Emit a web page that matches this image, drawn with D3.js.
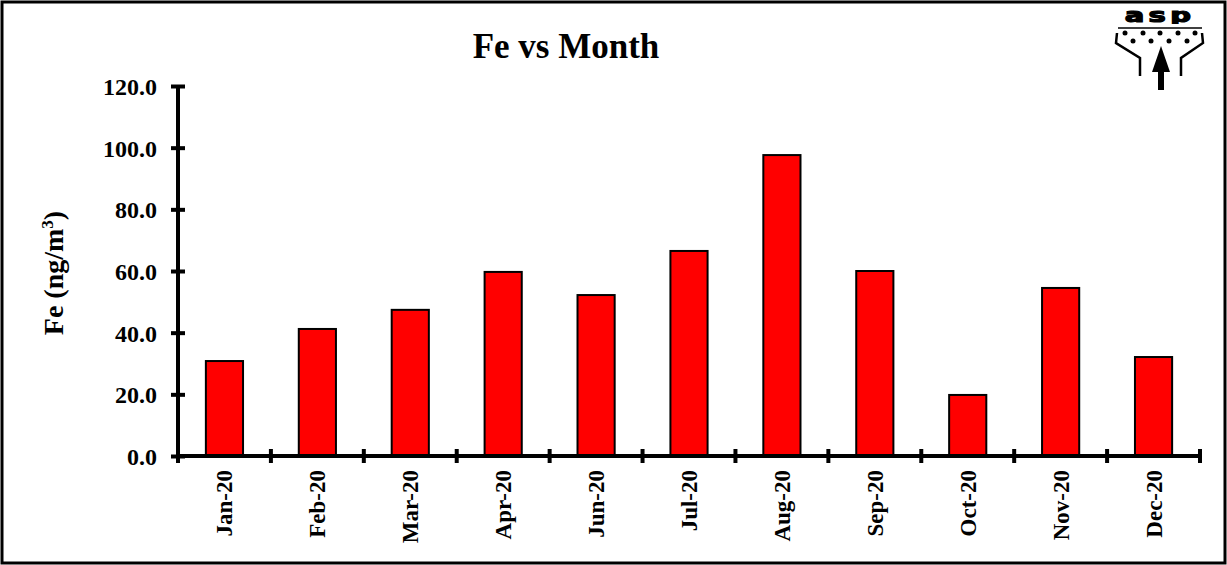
<!DOCTYPE html>
<html>
<head>
<meta charset="utf-8">
<script src="https://cdn.jsdelivr.net/npm/d3@7"></script>
<style>
  body { margin: 0; background: #fff; }
  text { font-family: "Liberation Serif", "Times New Roman", serif; font-weight: bold; }
</style>
</head>
<body>
<div id="chart"></div>
<script>
const months = ["Jan-20", "Feb-20", "Mar-20", "Apr-20", "Jun-20", "Jul-20", "Aug-20", "Sep-20", "Oct-20", "Nov-20", "Dec-20"];
const feValues = [30.8, 41.2, 47.4, 59.7, 52.2, 66.5, 97.6, 60.0, 19.8, 54.5, 32.1];
const yTicks = [0, 20, 40, 60, 80, 100, 120];

const width = 1227;
const height = 565;
const margin = { top: 86, left: 178, bottom: 109, right: 27 };
const iwidth = width - margin.left - margin.right;
const iheight = height - margin.top - margin.bottom;

const svg = d3.select("#chart").append("svg")
  .attr("width", width)
  .attr("height", height);

// outer frame
svg.append("rect")
  .attr("x", 2).attr("y", 2)
  .attr("width", width - 4).attr("height", height - 4)
  .attr("fill", "#fff")
  .attr("stroke", "#000")
  .attr("stroke-width", 3);

svg.append("text")
  .attr("x", 566).attr("y", 58)
  .attr("text-anchor", "middle")
  .style("font-size", "35px")
  .text("Fe vs Month");

const g = svg.append("g")
  .attr("transform", `translate(${margin.left},${margin.top})`);

const y = d3.scaleLinear().domain([0, 120]).range([iheight, 0]);
const x = d3.scaleBand().domain(months).range([0, iwidth]).paddingInner(0.6).paddingOuter(0.3);
const xEdges = d3.scaleLinear().domain([0, months.length]).range([0, iwidth]);

g.selectAll("rect.bar")
  .data(feValues)
  .enter()
  .append("rect")
  .attr("class", "bar")
  .attr("x", (d, i) => x(months[i]))
  .attr("y", d => y(d))
  .attr("width", x.bandwidth())
  .attr("height", d => iheight - y(d))
  .attr("fill", "#ff0000")
  .attr("stroke", "#000")
  .attr("stroke-width", 2);

// y axis
const yAxis = g.append("g")
  .call(d3.axisLeft(y).tickValues(yTicks).tickFormat(d3.format(".1f")).tickSize(7).tickPadding(14));
yAxis.select(".domain").remove();
yAxis.selectAll(".tick line").attr("x2", 7).attr("x1", -7).attr("stroke-width", 4);
yAxis.selectAll(".tick text").style("font-size", "24px").style("font-family", "Liberation Serif").style("font-weight", "bold").attr("dy", "0.35em");
g.append("line").attr("x1", 0).attr("x2", 0).attr("y1", 0).attr("y2", iheight)
  .attr("stroke", "#000").attr("stroke-width", 4);

// x axis
g.append("line").attr("x1", 0).attr("x2", iwidth).attr("y1", iheight).attr("y2", iheight)
  .attr("stroke", "#000").attr("stroke-width", 4);
g.selectAll("line.xtick")
  .data(d3.range(months.length + 1))
  .enter()
  .append("line")
  .attr("class", "xtick")
  .attr("x1", d => xEdges(d)).attr("x2", d => xEdges(d))
  .attr("y1", iheight - 7).attr("y2", iheight + 7)
  .attr("stroke", "#000").attr("stroke-width", 4);

g.selectAll("text.xlab")
  .data(months)
  .enter()
  .append("text")
  .attr("class", "xlab")
  .attr("transform", d => `translate(${x(d) + x.bandwidth() / 2 + 8},${iheight + 14}) rotate(-90)`)
  .attr("text-anchor", "end")
  .style("font-size", "23px")
  .text(d => d);

// y label
const ylab = svg.append("text")
  .attr("transform", "translate(63,273) rotate(-90)")
  .attr("text-anchor", "middle")
  .style("font-size", "28px");
ylab.append("tspan").text("Fe (ng/m");
ylab.append("tspan").style("font-size", "17px").attr("dy", "-10").text("3");
ylab.append("tspan").attr("dy", "10").text(")");

// asp logo
const logo = svg.append("g");
logo.append("text")
  .attr("transform", "translate(1160,22) scale(1.45,1)")
  .attr("text-anchor", "middle")
  .style("font-family", "DejaVu Sans, sans-serif")
  .style("font-weight", "900")
  .style("font-size", "20px")
  .style("letter-spacing", "3px")
  .attr("stroke", "#000")
  .attr("stroke-width", 1.2)
  .text("asp");
logo.append("rect").attr("x", 1116).attr("y", 24).attr("width", 90).attr("height", 3).attr("fill", "#fff");
logo.append("line").attr("x1", 1118).attr("x2", 1202).attr("y1", 28).attr("y2", 28)
  .attr("stroke", "#000").attr("stroke-width", 1.5);
const dots1 = [1125, 1143, 1160, 1178, 1195];
const dots2 = [1133, 1151, 1169, 1187];
logo.selectAll("circle.d1").data(dots1).enter().append("circle")
  .attr("cx", d => d).attr("cy", 33).attr("r", 2.5).attr("fill", "#000");
logo.selectAll("circle.d2").data(dots2).enter().append("circle")
  .attr("cx", d => d).attr("cy", 41).attr("r", 2.5).attr("fill", "#000");
logo.append("path")
  .attr("d", "M1117,33 L1116,43 L1140,58 L1140,76 M1202,33 L1203,43 L1181,58 L1181,76")
  .attr("fill", "none").attr("stroke", "#000").attr("stroke-width", 2.5);
logo.append("path")
  .attr("d", "M1161,46 L1170,72 L1152,72 Z")
  .attr("fill", "#000");
logo.append("rect").attr("x", 1158).attr("y", 70).attr("width", 6).attr("height", 20).attr("fill", "#000");
</script>
</body>
</html>
